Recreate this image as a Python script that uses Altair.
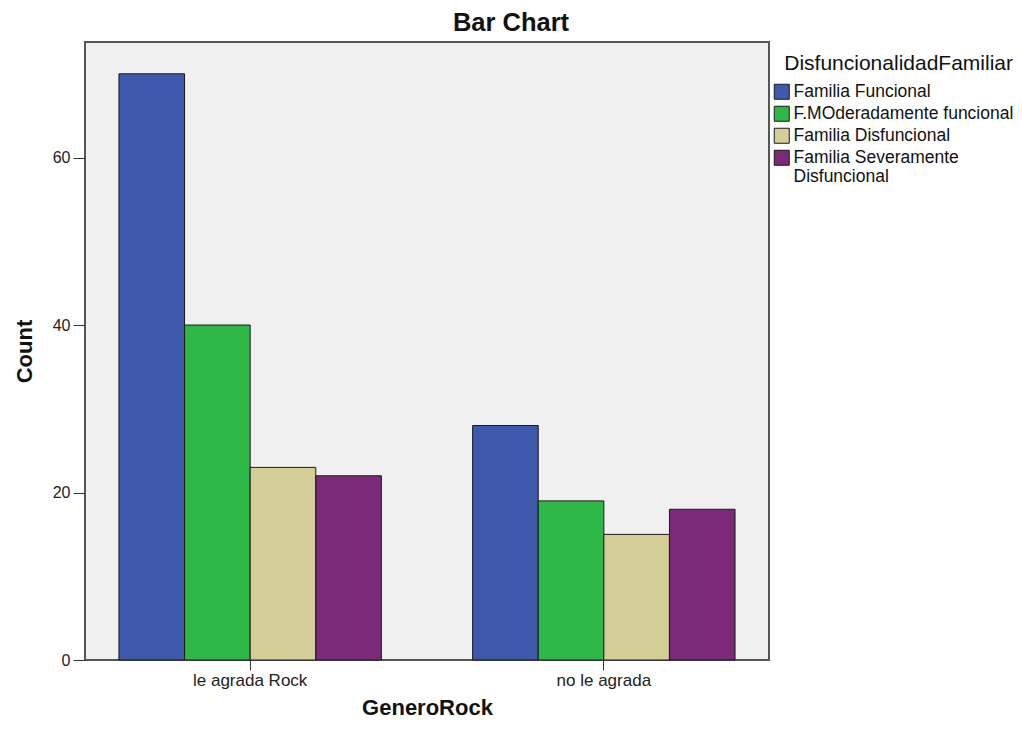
import altair as alt
import pandas as pd

categories = ["le agrada Rock", "no le agrada"]
series = ["Familia Funcional", "F.MOderadamente funcional", "Familia Disfuncional",
          "Familia Severamente Disfuncional"]
values_rock = [70, 40, 23, 22]
values_no = [28, 19, 15, 18]
colors = ["#3E58AC", "#2EB848", "#D3CE97", "#7B2A7A"]

rows = []
for cat, vals in zip(categories, [values_rock, values_no]):
    for s, v in zip(series, vals):
        rows.append({"GeneroRock": cat, "Disf": s, "Count": v})
df = pd.DataFrame(rows)

FONT = "Liberation Sans"

chart = alt.Chart(df).mark_bar(stroke="#1a1a1a", strokeWidth=1).encode(
    x=alt.X("GeneroRock:N", sort=categories,
            scale=alt.Scale(paddingInner=0.258, paddingOuter=0.096),
            axis=alt.Axis(title="GeneroRock", labelAngle=0, labelFontSize=17,
                          labelColor="#222", labelFont=FONT, tickSize=10,
                          tickColor="#333", domain=False, labelPadding=2,
                          titleFontSize=22, titleFont=FONT, titleFontWeight="bold",
                          titleColor="#111", titlePadding=9)),
    xOffset=alt.XOffset("Disf:N", sort=series, scale=alt.Scale(paddingInner=0, paddingOuter=0)),
    y=alt.Y("Count:Q", scale=alt.Scale(domain=[0, 73.8], nice=False),
            axis=alt.Axis(title="Count", values=[0, 20, 40, 60], grid=False,
                          labelFontSize=16, labelColor="#222", labelFont=FONT,
                          tickSize=12, tickColor="#333", domain=False, labelPadding=3,
                          titleFontSize=22, titleFont=FONT, titleFontWeight="bold",
                          titleColor="#111", titlePadding=16)),
    color=alt.Color("Disf:N", sort=series,
                    scale=alt.Scale(domain=series, range=colors),
                    legend=alt.Legend(
                        title="DisfuncionalidadFamiliar", orient="none",
                        legendX=688, legendY=11, titleFontSize=21, titleLimit=0,
                        titleAnchor="end",
                        titleFontWeight="normal", titleFont=FONT, titleColor="#111",
                        titlePadding=9, labelFontSize=17.5, labelFont=FONT,
                        labelColor="#111", labelLimit=0, symbolType="square",
                        symbolSize=225, symbolStrokeColor="#1a1a1a",
                        symbolStrokeWidth=1, symbolOpacity=1, rowPadding=2,
                        labelOffset=3,
                        labelExpr="datum.label == 'Familia Severamente Disfuncional' ? ['Familia Severamente', 'Disfuncional'] : datum.label")),
).properties(
    width=684, height=618,
    title=alt.TitleParams("Bar Chart", fontSize=25.5, font=FONT, fontWeight="bold",
                          color="#111", dx=84, offset=6),
    autosize=alt.AutoSizeParams(type="none"),
    padding={"left": 77, "top": 34, "right": 246, "bottom": 60},
    background="white",
).configure_view(
    fill="#F0F0F0", stroke="#555555", strokeWidth=2
)

chart.save("out.html", embed_options={"renderer": "svg", "actions": False})
